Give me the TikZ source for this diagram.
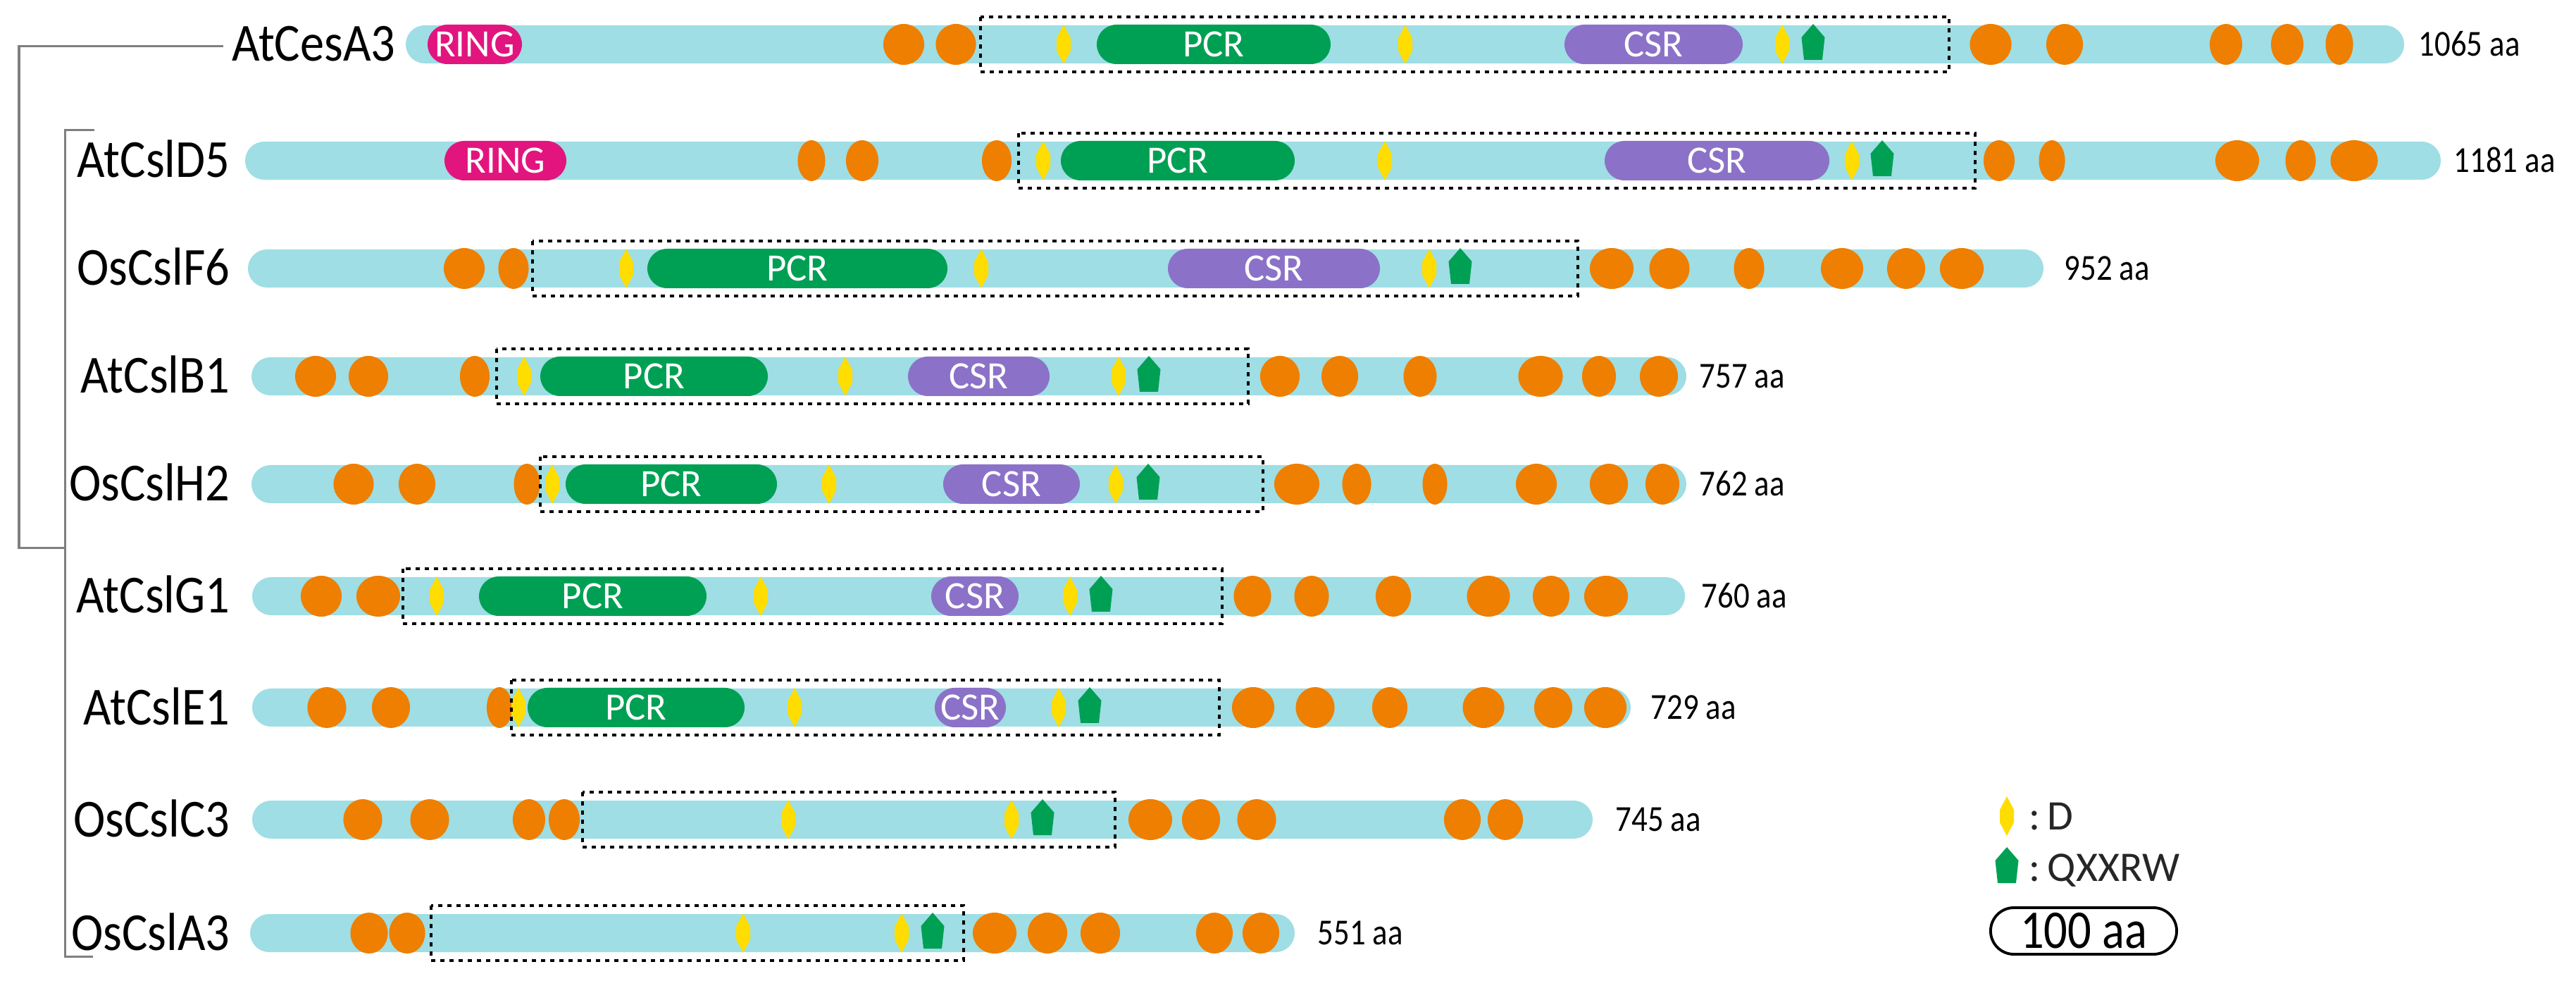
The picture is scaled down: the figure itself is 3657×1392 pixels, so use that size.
\documentclass[tikz,border=0pt]{standalone}
\usepackage{fontspec}
\setmainfont{Carlito}
\newfontfamily\lblfont[FakeStretch=0.9]{Carlito}
\newfontfamily\numfont[FakeStretch=0.86]{Carlito}
\definecolor{barcyan}{HTML}{9EDEE4}
\definecolor{orng}{HTML}{EE7F00}
\definecolor{pcrg}{HTML}{00A054}
\definecolor{csrp}{HTML}{8B72C8}
\definecolor{ringm}{HTML}{E2157F}
\definecolor{ymark}{HTML}{FFDD00}
\definecolor{gmark}{HTML}{00A054}
\definecolor{treegray}{HTML}{7F7F7F}
\tikzset{
  lbl/.style={inner sep=0pt, anchor=base east, font=\lblfont\fontsize{21.6pt}{24pt}\selectfont},
  num/.style={inner sep=0pt, anchor=base west, font=\numfont\fontsize{14.8pt}{17pt}\selectfont},
  pilltext/.style={inner sep=0pt, text=white, font=\fontsize{15.6pt}{17pt}\selectfont},
  dbox/.style={draw=black, line width=0.035cm, dash pattern=on 0.06cm off 0.07cm},
  tree/.style={draw=treegray, line width=0.03cm},
  legtext/.style={inner sep=0pt, anchor=base west, text=black!85, font=\fontsize{17pt}{19pt}\selectfont},
}
\newcommand\PBar[3]{\fill[barcyan, rounded corners=0.27cm] (#1,#3-27) rectangle (#2,#3+27);}
\newcommand\POrn[3]{\fill[orng] (#1,#2) ellipse [x radius={#3*0.005cm}, y radius=0.29cm];}
\newcommand\PDm[2]{\fill[ymark] (#1,#2-28) -- (#1+10,#2-9) -- (#1+10,#2+9) -- (#1,#2+28) -- (#1-10,#2+9) -- (#1-10,#2-9) -- cycle;}
\newcommand\PQm[2]{\fill[gmark] (#1,#2-29) -- (#1+16.5,#2-10) -- (#1+13,#2+22) -- (#1-13,#2+22) -- (#1-16.5,#2-10) -- cycle;}
\newcommand\PPill[6]{\fill[#4, rounded corners=0.28cm] (#1,#3-28) rectangle (#2,#3+28);
  \node[pilltext] (#6) at ({(#1+#2)/2},#3) {#5};}
\newcommand\PBox[3]{\draw[dbox] (#1,#3-39) rectangle (#2,#3+39);}
\begin{document}
\begin{tikzpicture}[x=0.01cm, y=-0.01cm]
\useasboundingbox (0,0) rectangle (3657,1392);

% ---------- tree ----------
\coordinate (t1) at (317,66);
\coordinate (t2) at (27,66);
\coordinate (t3) at (27,778);
\coordinate (t4) at (92,778);
\coordinate (u1) at (134,185);
\coordinate (u2) at (92,185);
\coordinate (u3) at (92,1357);
\coordinate (u4) at (132,1357);
\draw[tree] (t1) -- (t2) -- (t3) -- (t4);
\draw[tree] (u1) -- (u2) -- (u3) -- (u4);

% ---------- Row 1: AtCesA3 ----------
\node[lbl] (AtCesA3) at (562,63+24) {AtCesA3};
\PBar{576}{3413}{63}
\PPill{607}{741}{63}{ringm}{RING}{ring1}
\POrn{1283}{63}{58}\POrn{1357}{63}{57}
\PDm{1510}{63}\PDm{1995}{63}\PDm{2530}{63}\PQm{2574}{63}
\PPill{1557}{1889}{63}{pcrg}{PCR}{pcr1}
\PPill{2221}{2474}{63}{csrp}{CSR}{csr1}
\POrn{2826}{63}{59}\POrn{2931}{63}{52}\POrn{3160}{63}{46}\POrn{3247}{63}{46}\POrn{3321}{63}{39}
\PBox{1392}{2767}{63}
\node[num] (n1) at (3433,63+16.5) {1065 aa};

% ---------- Row 2: AtCslD5 ----------
\node[lbl] (AtCslD5) at (327,228+24) {AtCslD5};
\PBar{348}{3465}{228}
\PPill{631}{804}{228}{ringm}{RING}{ring2}
\POrn{1152}{228}{39}\POrn{1224}{228}{46}\POrn{1415}{228}{42}
\PDm{1481}{228}\PDm{1966}{228}\PDm{2629}{228}\PQm{2672}{228}
\PPill{1506}{1838}{228}{pcrg}{PCR}{pcr2}
\PPill{2278}{2597}{228}{csrp}{CSR}{csr2}
\POrn{2838}{228}{44}\POrn{2913}{228}{37}\POrn{3176}{228}{62}\POrn{3266}{228}{43}\POrn{3342}{228}{67}
\PBox{1446}{2804}{228}
\node[num] (n2) at (3483,228+16.5) {1181 aa};

% ---------- Row 3: OsCslF6 ----------
\node[lbl] (OsCslF6) at (327,381+24) {OsCslF6};
\PBar{352}{2901}{381}
\POrn{659}{381}{58}\POrn{729}{381}{43}
\PDm{889}{381}\PDm{1393}{381}\PDm{2029}{381}\PQm{2073}{381}
\PPill{919}{1345}{381}{pcrg}{PCR}{pcr3}
\PPill{1658}{1959}{381}{csrp}{CSR}{csr3}
\POrn{2288}{381}{62}\POrn{2370}{381}{57}\POrn{2483}{381}{43}\POrn{2615}{381}{60}\POrn{2706}{381}{54}\POrn{2785}{381}{62}
\PBox{756}{2240}{381}
\node[num] (n3) at (2930,381+16.5) {952 aa};

% ---------- Row 4: AtCslB1 ----------
\node[lbl] (AtCslB1) at (327,534+24) {AtCslB1};
\PBar{357}{2394}{534}
\POrn{448}{534}{58}\POrn{523}{534}{56}\POrn{674}{534}{42}
\PDm{744}{534}\PDm{1200}{534}\PDm{1588}{534}\PQm{1631}{534}
\PPill{767}{1090}{534}{pcrg}{PCR}{pcr4}
\PPill{1289}{1490}{534}{csrp}{CSR}{csr4}
\POrn{1817}{534}{56}\POrn{1902}{534}{52}\POrn{2016}{534}{47}\POrn{2187}{534}{63}\POrn{2270}{534}{48}\POrn{2355}{534}{54}
\PBox{705}{1772}{534}
\node[num] (n4) at (2412,534+16.5) {757 aa};

% ---------- Row 5: OsCslH2 ----------
\node[lbl] (OsCslH2) at (327,687+24) {OsCslH2};
\PBar{357}{2394}{687}
\POrn{502}{687}{57}\POrn{592}{687}{52}\POrn{748}{687}{37}
\PDm{784}{687}\PDm{1177}{687}\PDm{1584}{687}\PQm{1630}{687}
\PPill{803}{1103}{687}{pcrg}{PCR}{pcr5}
\PPill{1339}{1533}{687}{csrp}{CSR}{csr5}
\POrn{1841}{687}{64}\POrn{1926}{687}{41}\POrn{2037}{687}{35}\POrn{2181}{687}{58}\POrn{2284}{687}{54}\POrn{2360}{687}{48}
\PBox{767}{1793}{687}
\node[num] (n5) at (2412,687+16.5) {762 aa};

% ---------- Row 6: AtCslG1 ----------
\node[lbl] (AtCslG1) at (327,846+24) {AtCslG1};
\PBar{358}{2392}{846}
\POrn{456}{846}{58}\POrn{537}{846}{62}
\PDm{620}{846}\PDm{1080}{846}\PDm{1519}{846}\PQm{1563}{846}
\PPill{680}{1003}{846}{pcrg}{PCR}{pcr6}
\PPill{1322}{1446}{846}{csrp}{CSR}{csr6}
\POrn{1778}{846}{53}\POrn{1862}{846}{49}\POrn{1978}{846}{50}\POrn{2113}{846}{61}\POrn{2202}{846}{52}\POrn{2280}{846}{62}
\PBox{572}{1735}{846}
\node[num] (n6) at (2415,846+16.5) {760 aa};

% ---------- Row 7: AtCslE1 ----------
\node[lbl] (AtCslE1) at (327,1004+24) {AtCslE1};
\PBar{358}{2315}{1004}
\POrn{464}{1004}{55}\POrn{555}{1004}{54}\POrn{709}{1004}{36}
\PDm{736}{1004}\PDm{1128}{1004}\PDm{1503}{1004}\PQm{1547}{1004}
\PPill{749}{1057}{1004}{pcrg}{PCR}{pcr7}
\PPill{1327}{1428}{1004}{csrp}{CSR}{csr7}
\POrn{1779}{1004}{60}\POrn{1867}{1004}{55}\POrn{1973}{1004}{50}\POrn{2106}{1004}{59}\POrn{2205}{1004}{54}\POrn{2279}{1004}{60}
\PBox{726}{1731}{1004}
\node[num] (n7) at (2343,1004+16.5) {729 aa};

% ---------- Row 8: OsCslC3 ----------
\node[lbl] (OsCslC3) at (327,1163+24) {OsCslC3};
\PBar{358}{2261}{1163}
\POrn{515}{1163}{55}\POrn{610}{1163}{55}\POrn{751}{1163}{46}\POrn{801}{1163}{44}
\PDm{1119}{1163}\PDm{1436}{1163}\PQm{1480}{1163}
\POrn{1633}{1163}{62}\POrn{1705}{1163}{54}\POrn{1784}{1163}{55}\POrn{2076}{1163}{52}\POrn{2137}{1163}{50}
\PBox{827}{1583}{1163}
\node[num] (n8) at (2293,1163+16.5) {745 aa};

% ---------- Row 9: OsCslA3 ----------
\node[lbl] (OsCslA3) at (327,1324+24) {OsCslA3};
\PBar{355}{1838}{1324}
\POrn{524}{1324}{53}\POrn{578}{1324}{51}
\PDm{1055}{1324}\PDm{1280}{1324}\PQm{1324}{1324}
\POrn{1412}{1324}{62}\POrn{1487}{1324}{56}\POrn{1562}{1324}{56}\POrn{1724}{1324}{52}\POrn{1790}{1324}{52}
\PBox{612}{1368}{1324}
\node[num] (n9) at (1870,1324+16.5) {551 aa};

% ---------- Legend ----------
\PDm{2849}{1158}
\node[legtext] (legD) at (2880,1158+19) {:\,D};
\PQm{2849}{1231}
\node[legtext] (legQ) at (2880,1231+19) {:\,QXXRW};
\node[draw=black, line width=1.1pt, rounded corners=0.33cm, minimum width=2.64cm, minimum height=0.66cm, inner sep=0pt, font=\numfont\fontsize{22pt}{24pt}\selectfont] (scalebar) at (2958,1321) {100 aa};
\end{tikzpicture}
\end{document}
